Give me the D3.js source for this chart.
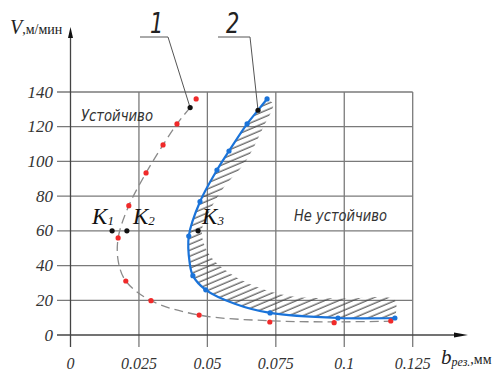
<!DOCTYPE html>
<html>
<head>
<meta charset="utf-8">
<script src="https://cdn.jsdelivr.net/npm/d3@7"></script>
<style>
  body { margin: 0; background: #fff; }
  svg { display: block; }
  .serif { font-family: "Liberation Serif", "Times New Roman", "DejaVu Serif", serif; }
  .sans { font-family: "DejaVu Sans", "Liberation Sans", sans-serif; }
</style>
</head>
<body>
<div id="chart"></div>
<script>
// Tick values
var xTicks = [0, 0.025, 0.05, 0.075, 0.1, 0.125];
var xTickLabels = ["0", "0.025", "0.05", "0.075", "0.1", "0.125"];
var yTicks = [0, 20, 40, 60, 80, 100, 120, 140];

// Curve 1 (red points, dashed line) [b, V]
var redPoints = [[0.0459, 136], [0.0389, 121.6], [0.0338, 109.5], [0.0276, 93.4], [0.0213, 74.5],
    [0.0174, 55.9], [0.0202, 31.1], [0.0294, 19.8], [0.047, 11.5], [0.0728, 7.5], [0.0963, 7.1], [0.117, 8.1]];
var curve1 = [[0.0437, 131], [0.0389, 121.6], [0.0338, 109.5], [0.0276, 93.4], [0.0213, 74.5],
    [0.0174, 55.9], [0.0175, 42], [0.0202, 31.1], [0.0294, 19.8], [0.047, 11.5], [0.0728, 8.2], [0.0963, 7.6], [0.119, 8.0]];

// Curve 2 (blue)
var bluePoints = [[0.0718, 136], [0.0645, 121.6], [0.0579, 106], [0.0535, 95], [0.0473, 76.8],
    [0.0432, 57], [0.0447, 34.2], [0.0494, 26], [0.0729, 12.7], [0.0977, 9.8], [0.1185, 9.8]];
var curve2 = [[0.0718, 136], [0.0685, 129.5], [0.0645, 121.6], [0.0579, 106], [0.0535, 95], [0.0473, 76.8],
    [0.0432, 57], [0.0435, 42], [0.0447, 34.2], [0.0494, 26], [0.06, 18], [0.0729, 12.7], [0.0977, 9.8], [0.1185, 9.8]];

// Outer edge of hatched zone
var hatchEdge = [[0.1185, 9.8], [0.1185, 20], [0.1, 21], [0.08, 22.5], [0.066, 29], [0.056, 38], [0.05, 48],
    [0.048, 60], [0.051, 72], [0.056, 85], [0.064, 100], [0.0705, 120], [0.074, 133], [0.0718, 136]];

// Black marker points
var kPoints = [
    { name: "K", sub: "1", b: 0.0152, v: 60, dx: -20, dy: -7 },
    { name: "K", sub: "2", b: 0.0206, v: 60, dx: 6, dy: -7 },
    { name: "K", sub: "3", b: 0.0466, v: 60, dx: 4, dy: -7 }
];
var leaderPoints = [
    { label: "1", b: 0.0437, v: 131, tx: 150, x1: 140, x2: 168 },
    { label: "2", b: 0.0685, v: 129.5, tx: 226, x1: 218, x2: 250 }
];

var width = 500, height = 374;
var svg = d3.select("#chart").append("svg")
    .attr("width", width)
    .attr("height", height);

var x = d3.scaleLinear().domain([0, 0.125]).range([70.5, 412.7]);
var y = d3.scaleLinear().domain([0, 140]).range([335, 92]);

var gridColor = "#7a7a7a";

// Hatch pattern
var defs = svg.append("defs");
defs.append("pattern")
    .attr("id", "hatch")
    .attr("patternUnits", "userSpaceOnUse")
    .attr("width", 10).attr("height", 5.5)
    .attr("patternTransform", "rotate(-23)")
    .append("line")
    .attr("x1", 0).attr("x2", 10).attr("y1", 2).attr("y2", 2)
    .attr("stroke", "#444").attr("stroke-width", 1.1);

// Grid: horizontal
svg.selectAll(".hgrid")
    .data(yTicks.filter(d => d > 0))
    .join("line")
    .attr("class", "hgrid")
    .attr("x1", 57).attr("x2", x(0.125))
    .attr("y1", d => y(d)).attr("y2", d => y(d))
    .attr("stroke", gridColor).attr("stroke-width", 1.3);

// Grid: vertical
svg.selectAll(".vgrid")
    .data(xTicks.filter(d => d > 0))
    .join("line")
    .attr("class", "vgrid")
    .attr("x1", d => x(d)).attr("x2", d => x(d))
    .attr("y1", y(140)).attr("y2", 347)
    .attr("stroke", gridColor).attr("stroke-width", 1.3);

// Axes with arrows
svg.append("line")
    .attr("x1", 57).attr("x2", 460)
    .attr("y1", y(0)).attr("y2", y(0))
    .attr("stroke", "#444").attr("stroke-width", 1.3);
svg.append("path")
    .attr("d", `M468,${y(0)} L454,${y(0) - 2.5} L454,${y(0) + 2.5} Z`)
    .attr("fill", "#111");
svg.append("line")
    .attr("x1", x(0)).attr("x2", x(0))
    .attr("y1", 36).attr("y2", 347)
    .attr("stroke", "#444").attr("stroke-width", 1.3);
svg.append("path")
    .attr("d", `M${x(0)},27 L${x(0) - 2.5},38 L${x(0) + 2.5},38 Z`)
    .attr("fill", "#111");

// Tick labels
svg.selectAll(".ylab")
    .data(yTicks)
    .join("text")
    .attr("class", "ylab serif")
    .attr("x", 53).attr("y", d => y(d) + 5.5)
    .attr("text-anchor", "end")
    .attr("font-style", "italic")
    .attr("font-size", 17).attr("fill", "#333")
    .text(d => d);

svg.selectAll(".xlab")
    .data(xTicks)
    .join("text")
    .attr("class", "xlab serif")
    .attr("x", d => x(d)).attr("y", 369)
    .attr("text-anchor", "middle")
    .attr("font-style", "italic")
    .attr("font-size", 16).attr("fill", "#333")
    .text((d, i) => xTickLabels[i]);

// Axis titles
var yTitle = svg.append("text").attr("class", "serif").attr("x", 10).attr("y", 34).attr("fill", "#222");
yTitle.append("tspan").attr("font-style", "italic").attr("font-size", 20).text("V");
yTitle.append("tspan").attr("font-size", 14).text(",м/мин");

var xTitle = svg.append("text").attr("class", "serif").attr("x", 441).attr("y", 364).attr("fill", "#222");
xTitle.append("tspan").attr("font-style", "italic").attr("font-size", 21).text("b");
xTitle.append("tspan").attr("font-style", "italic").attr("font-size", 12).attr("dy", 2).text("рез.");
xTitle.append("tspan").attr("font-size", 14).attr("dy", -2).text(",мм");

// Hatched zone
var line = d3.line().x(d => x(d[0])).y(d => y(d[1])).curve(d3.curveCatmullRom.alpha(0.5));
var hatchPath = line(curve2) + line(hatchEdge).replace(/^M/, "L");
svg.append("path")
    .attr("d", hatchPath + "Z")
    .attr("fill", "url(#hatch)");

// Curve 1 dashed
svg.append("path")
    .attr("d", line(curve1))
    .attr("fill", "none")
    .attr("stroke", "#8a8a8a").attr("stroke-width", 1.3)
    .attr("stroke-dasharray", "9,5");

// Curve 2 blue
svg.append("path")
    .attr("d", line(curve2))
    .attr("fill", "none")
    .attr("stroke", "#1a73d9").attr("stroke-width", 2.2);

svg.selectAll(".red")
    .data(redPoints)
    .join("circle")
    .attr("class", "red")
    .attr("cx", d => x(d[0])).attr("cy", d => y(d[1]))
    .attr("r", 2.6).attr("fill", "#f02a2a");

svg.selectAll(".blue")
    .data(bluePoints)
    .join("circle")
    .attr("class", "blue")
    .attr("cx", d => x(d[0])).attr("cy", d => y(d[1]))
    .attr("r", 2.6).attr("fill", "#1a73d9");

// Leaders for curve numbers
leaderPoints.forEach(function (p) {
    svg.append("path")
        .attr("d", `M${p.x1},37 L${p.x2},37 L${x(p.b)},${y(p.v)}`)
        .attr("fill", "none").attr("stroke", "#555").attr("stroke-width", 1);
    svg.append("text")
        .attr("class", "sans")
        .attr("x", p.tx).attr("y", 33)
        .attr("font-style", "italic")
        .attr("font-size", 28).attr("fill", "#222")
        .attr("transform", `translate(${p.tx},0) scale(0.75,1) translate(${-p.tx},0)`)
        .text(p.label);
    svg.append("circle")
        .attr("cx", x(p.b)).attr("cy", y(p.v))
        .attr("r", 2.6).attr("fill", "#111");
});

// K points
kPoints.forEach(function (k) {
    svg.append("circle")
        .attr("cx", x(k.b)).attr("cy", y(k.v))
        .attr("r", 2.6).attr("fill", "#111");
    var t = svg.append("text")
        .attr("class", "serif")
        .attr("x", x(k.b) + k.dx).attr("y", y(k.v) + k.dy)
        .attr("font-style", "italic").attr("fill", "#111");
    t.append("tspan").attr("font-size", 23).text(k.name);
    t.append("tspan").attr("font-size", 13).attr("dy", 1).text(k.sub);
});

// Zone labels
svg.append("text")
    .attr("class", "sans")
    .attr("x", 81).attr("y", 121)
    .attr("font-style", "italic")
    .attr("font-size", 15).attr("fill", "#333")
    .attr("textLength", 72).attr("lengthAdjust", "spacingAndGlyphs")
    .text("Устойчиво");
svg.append("text")
    .attr("class", "sans")
    .attr("x", 294).attr("y", 221)
    .attr("font-style", "italic")
    .attr("font-size", 15).attr("fill", "#333")
    .attr("textLength", 93).attr("lengthAdjust", "spacingAndGlyphs")
    .text("Не устойчиво");
</script>
</body>
</html>
